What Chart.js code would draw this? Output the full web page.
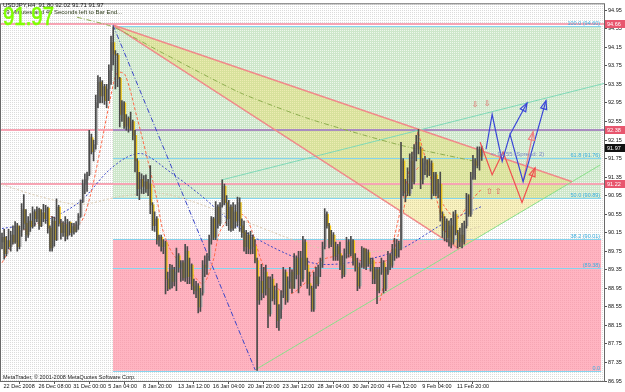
<!DOCTYPE html>
<html><head><meta charset="utf-8">
<style>html,body{margin:0;padding:0;background:#fff;overflow:hidden}canvas{display:block}</style>
<script src="https://cdn.jsdelivr.net/npm/chart.js@4.4.1/dist/chart.umd.min.js"></script>
</head><body>
<canvas id="c" width="625" height="392"></canvas>
<script>
// ---------- DATA (USDJPY H4) ----------
const timeLabels = ['22 Dec 2008','26 Dec 08:00','31 Dec 00:00','5 Jan 04:00','8 Jan 20:00','13 Jan 12:00','16 Jan 04:00','20 Jan 20:00','23 Jan 12:00','28 Jan 04:00','30 Jan 20:00','4 Feb 12:00','9 Feb 04:00','11 Feb 20:00'];
const labelEvery = 16;
const priceTicks = [86.95,87.35,87.75,88.15,88.55,88.95,89.35,89.75,90.15,90.55,90.95,91.35,91.75,92.15,92.55,92.95,93.35,93.75,94.15,94.55,94.95];

const opens = [
89.95,90.05,89.70,89.98,89.85,90.10,89.95,90.30,89.85,90.20,
90.65,90.35,90.10,90.40,90.28,90.60,90.45,90.65,90.30,90.58,
90.45,90.68,90.25,89.82,90.40,90.00,90.70,90.35,90.15,90.32,
90.08,90.38,90.15,90.28,90.18,90.32,90.50,90.82,91.20,91.30,
91.40,92.20,91.90,92.05,92.95,93.40,93.10,93.30,93.00,93.25,
93.65,94.25,94.00,93.98,93.48,92.70,92.95,92.45,92.62,92.40,
92.55,92.25,91.70,91.10,91.30,91.15,91.25,91.10,91.20,90.75,
90.30,90.45,89.99,90.05,89.85,89.95,89.15,88.95,89.35,89.10,
89.30,89.65,89.40,89.50,89.18,89.75,89.20,89.45,89.00,88.90,
89.00,88.55,88.85,89.45,89.40,89.60,90.00,90.45,90.05,90.70,
90.35,90.75,91.15,90.80,90.45,90.70,90.25,90.60,90.40,90.80,
90.30,90.15,89.85,90.10,89.80,90.05,89.85,89.55,88.70,89.10,
88.85,89.30,88.95,88.40,89.15,88.72,88.90,88.25,88.50,88.80,
89.30,88.70,89.10,89.30,88.95,89.60,89.25,89.60,89.15,89.95,
89.45,89.05,88.95,88.50,89.20,89.05,89.40,89.50,89.85,90.55,
90.30,89.90,90.10,89.65,89.85,89.70,89.45,89.25,89.70,89.95,
89.70,89.98,89.55,89.40,89.00,89.45,89.80,89.42,89.72,89.48,
89.55,89.15,89.35,88.90,89.30,89.50,88.95,89.30,89.65,89.45,
89.80,89.65,89.92,89.80,91.70,91.05,91.20,91.00,91.70,91.25,
91.95,92.10,91.95,91.30,91.65,91.70,91.40,91.65,91.00,91.40,
91.00,91.20,90.55,90.20,90.40,90.05,90.30,89.95,90.55,90.15,
89.95,90.10,89.95,90.30,90.95,90.55,91.35,91.70,91.60,91.95,
91.80];
const highs = [
90.14,90.22,90.07,90.22,90.18,90.30,90.39,90.35,90.29,90.78,
90.97,90.65,90.50,90.56,90.71,90.65,90.71,90.68,90.65,90.76,
90.74,90.70,90.30,90.50,90.48,90.88,90.74,90.44,90.39,90.50,
90.44,90.39,90.35,90.35,90.39,90.56,90.86,91.29,91.42,91.46,
92.36,92.28,92.15,93.12,93.54,93.50,93.43,93.35,93.35,93.77,
94.39,94.59,94.08,94.02,93.50,93.00,92.98,92.70,92.65,92.75,
92.58,92.36,91.75,91.45,91.42,91.38,91.40,91.30,91.60,90.80,
90.60,90.50,90.10,90.10,90.00,89.97,89.30,89.47,89.45,89.40,
89.82,89.70,89.55,89.55,89.90,89.85,89.60,89.48,89.15,89.10,
89.05,88.95,89.55,89.65,89.70,90.10,90.50,90.48,90.82,90.75,
90.80,91.29,91.20,90.95,90.85,90.75,90.80,90.75,90.92,90.90,
90.45,90.40,90.20,90.15,90.18,90.10,90.00,89.60,89.20,89.47,
89.40,89.45,89.20,89.20,89.25,89.00,89.05,88.60,88.90,89.40,
89.35,89.20,89.40,89.35,89.70,89.65,89.75,89.75,90.07,90.00,
89.60,89.30,89.00,89.30,89.40,89.45,89.60,89.95,90.67,90.60,
90.35,90.20,90.15,89.95,89.90,89.95,89.65,89.80,90.05,90.00,
90.07,90.00,89.70,89.60,89.50,89.85,89.82,89.80,89.78,89.60,
89.60,89.40,89.40,89.40,89.60,89.55,89.40,89.75,89.70,89.90,
90.03,90.00,89.97,92.10,91.75,91.30,91.55,91.85,91.89,92.05,
92.25,92.38,92.00,91.75,91.80,91.72,91.75,91.70,91.45,91.45,
91.30,91.46,90.60,90.50,90.45,90.40,90.46,90.60,90.63,90.20,
90.25,90.35,90.40,91.00,90.97,91.45,91.82,91.75,92.00,92.00,
92.02];
const lows = [
89.80,89.58,89.65,89.80,89.75,89.90,89.92,89.75,89.80,90.07,
90.22,89.97,90.05,90.18,90.25,90.29,90.39,90.22,90.28,90.39,
90.35,90.14,89.75,89.75,89.86,89.98,90.29,90.01,90.07,89.97,
90.01,90.10,90.07,90.12,90.16,90.22,90.48,90.80,90.99,91.04,
91.38,91.85,91.70,91.95,92.85,92.95,92.95,92.92,92.85,93.00,
93.35,93.77,93.25,93.30,92.43,92.55,92.40,92.36,92.32,92.36,
92.15,91.46,90.95,90.86,91.00,90.99,91.02,90.95,90.56,90.20,
90.18,89.90,89.86,89.75,89.70,88.83,88.90,88.93,88.96,89.00,
88.90,89.30,89.10,89.12,89.10,89.05,89.05,88.92,88.83,88.75,
88.42,88.45,88.80,89.20,89.25,89.55,89.90,90.00,90.00,90.25,
90.30,90.70,90.75,90.30,90.20,90.18,90.20,90.25,90.30,90.18,
90.05,89.75,89.70,89.70,89.69,89.70,89.50,87.18,88.60,88.70,
88.75,88.80,88.10,88.35,88.68,88.60,88.10,88.04,88.30,88.75,
88.60,88.65,88.95,88.85,88.95,89.15,88.85,89.00,89.10,89.35,
88.95,88.80,88.45,88.45,88.95,89.00,89.20,89.40,89.80,90.25,
89.82,89.85,89.55,89.55,89.55,89.35,89.17,89.20,89.60,89.62,
89.65,89.45,89.32,88.90,88.95,89.40,89.38,89.35,89.42,89.32,
89.05,89.05,88.62,88.85,89.25,88.85,88.90,89.25,89.35,89.40,
89.55,89.60,89.62,89.78,90.95,90.82,90.95,90.95,91.10,91.20,
91.70,91.85,91.10,91.20,91.40,91.35,91.38,90.88,90.95,90.95,
90.90,90.40,90.05,89.97,89.95,89.86,89.82,89.90,90.10,89.82,
89.85,89.82,89.90,90.25,90.50,90.50,91.30,91.30,91.55,91.50,
91.71];
const closes = [
90.05,89.70,89.98,89.85,90.10,89.95,90.30,89.85,90.20,90.65,
90.35,90.10,90.40,90.28,90.60,90.45,90.65,90.30,90.58,90.45,
90.68,90.25,89.82,90.40,90.00,90.70,90.35,90.15,90.32,90.08,
90.38,90.15,90.28,90.18,90.32,90.50,90.82,91.20,91.30,91.40,
92.20,91.90,92.05,92.95,93.40,93.10,93.30,93.00,93.25,93.65,
94.25,94.00,93.98,93.48,92.70,92.95,92.45,92.62,92.40,92.55,
92.25,91.70,91.10,91.30,91.15,91.25,91.10,91.20,90.75,90.30,
90.45,89.99,90.05,89.85,89.95,89.15,88.95,89.35,89.10,89.30,
89.65,89.40,89.50,89.18,89.75,89.20,89.45,89.00,88.90,89.00,
88.55,88.85,89.45,89.40,89.60,90.00,90.45,90.05,90.70,90.35,
90.75,91.15,90.80,90.45,90.70,90.25,90.60,90.40,90.80,90.30,
90.15,89.85,90.10,89.80,90.05,89.85,89.55,88.70,89.10,88.85,
89.30,88.95,88.40,89.15,88.72,88.90,88.25,88.50,88.80,89.30,
88.70,89.10,89.30,88.95,89.60,89.25,89.60,89.15,89.95,89.45,
89.05,88.95,88.50,89.20,89.05,89.40,89.50,89.85,90.55,90.30,
89.90,90.10,89.65,89.85,89.70,89.45,89.25,89.70,89.95,89.70,
89.98,89.55,89.40,89.00,89.45,89.80,89.42,89.72,89.48,89.55,
89.15,89.35,88.90,89.30,89.50,88.95,89.30,89.65,89.45,89.80,
89.65,89.92,89.80,91.70,91.05,91.20,91.00,91.70,91.25,91.95,
92.10,91.95,91.30,91.65,91.70,91.40,91.65,91.00,91.40,91.00,
91.20,90.55,90.20,90.40,90.05,90.30,89.95,90.55,90.15,89.95,
90.10,89.95,90.30,90.95,90.55,91.35,91.70,91.60,91.95,91.80,
91.97];

// horizontal price lines and fibo levels (price values)
const hLinePrices = [94.66, 92.37, 91.21];
const hLineTags = ['94.66','92.38','91.22'];
const fibPrices = [94.60, 91.76, 90.89, 90.01, 89.39, 87.17];
const fibTags = ['100.0 (94.60)','61.8 (91.76)','50.0 (90.89)','38.2 (90.01)','(89.38)','0.0'];
const fibFrom = 50.9, fibTo = 274.8;      // bar index span of the fibo object
const lastPrice = 91.97;

// trend objects: [barIndex, price]
const pennantTop = [[50.9,94.63],[261.5,91.25]];
const pennantLow = [[50.9,94.63],[209.6,89.80]];
const supportLine = [[116.1,87.19],[274.3,91.61]];
const channelTop = [[100.9,91.29],[276.1,93.37]];
const fanLine = [[50.9,94.63],[116.1,87.19]];
const slowMA = [[0,90.24],[18.8,90.39],[35.8,90.82],[48.2,91.46],[57.3,91.78],[64.7,91.85],[77.1,91.46],[90.8,90.97],[109.2,90.24],[130.7,89.69],[145.9,89.47],[164.2,89.54],[182.6,89.79],[204.1,90.39],[219.7,90.71]];
const fastMA = [[0,89.50],[8.3,90.14],[16.1,90.35],[22,90.50],[29.8,90.33],[35.8,90.35],[40.4,90.93],[45,91.93],[49.5,93.00],[52.8,93.60],[56.4,93.56],[61.9,92.64],[66.5,91.78],[71.1,90.86],[73.9,90.18],[78.4,89.69],[86.2,89.32],[92.2,89.05],[96.8,89.54],[100,90.18],[106.9,90.57],[111.5,90.50],[114.7,90.18],[119.3,89.50],[125.2,89.00],[132.1,88.83],[139.9,89.11],[145.9,89.54],[157.3,89.65],[168.8,89.50],[178,89.60],[182.6,90.29],[187.2,91.25],[191.7,91.57],[197.7,91.31],[202.3,90.76],[208.7,90.46],[214.7,90.82],[219.7,91.08]];
const zigzag = [[173.4,88.68],[190.8,92.33],[204.6,89.97]];
const midLine = [[34.4,94.80],[50.9,94.59],[74.8,94.00],[109.2,93.17],[141.3,92.60],[182.6,92.04],[217.9,91.68]];
const longMA = [[0,91.19],[17.4,90.93],[35.8,90.76],[54.1,90.93],[72.5,91.00],[87.6,90.82],[113.8,90.35],[145.9,89.82],[173.4,89.75],[196.3,89.97],[219.7,90.29]];
const blueProj = [[222,91.95],[224.8,92.70],[229.4,91.69],[233,92.27],[239,91.25],[249.5,93.00]];
const blueProj2 = [[233,92.27],[240.8,92.95]];
const redProj = [[219.3,92.10],[224.8,91.40],[229.8,91.89],[238.5,90.80],[244.5,91.55]];
const redProj2 = [[239,91.25],[243.6,92.33]];

// ---------- CHART ----------
const FONT = 'Liberation Sans, Arial, sans-serif';
const pts = a => a.map(p => ({x:p[0], y:p[1]}));
const idx = opens.map((_, i) => i);
const lineDS = (data, color, width, dash, order, tension) => ({
  type:'line', data:pts(data), borderColor:color, borderWidth:width, borderDash:dash||[],
  pointRadius:0, fill:false, order:order, tension:tension||0, clip:0
});

const datasets = [
  {type:'bar', data: idx.map(i => ({x:i, y:[lows[i], highs[i]]})), backgroundColor:'#4a4a4a', barThickness:1, grouped:false, order:4},
  {type:'bar', data: idx.map(i => ({x:i+0.35, y:[opens[i], closes[i]]})),
   backgroundColor: idx.map(i => closes[i] < opens[i] ? '#f0c418' : '#b4b4b4'), barThickness:2, grouped:false, order:5},
  lineDS(fastMA, '#ff6a4a', 1, [3,2], 6, 0.3),
  lineDS(slowMA, '#3a46c8', 1, [2,2], 7, 0.3),
  lineDS(longMA, '#dccbb0', 1, [2,2], 8, 0.3),
  lineDS(midLine, '#8fae50', 1, [5,2,1,2], 7, 0.2),
  lineDS(fanLine, '#3a46c8', 1, [5,2,1,2], 7),
  lineDS(zigzag, '#ff6a4a', 1, [3,2], 6),
  lineDS(pennantTop, '#f08a8a', 1.5, [], 8),
  lineDS(pennantLow, '#f08a8a', 1.5, [], 8),
  lineDS(supportLine, '#8ae08a', 1, [], 8),
  lineDS(channelTop, '#7fd8b8', 1, [], 8),
  lineDS(blueProj, '#3a46d8', 1.2, [], 2),
  lineDS(blueProj2, '#3a46d8', 1.2, [], 2),
  lineDS(redProj, '#f05050', 1.2, [], 2),
  lineDS(redProj2, '#f08080', 1.2, [], 2)
];

function dotPattern(ctx, base, dot){
  const p = document.createElement('canvas'); p.width = 2; p.height = 2;
  const g = p.getContext('2d'); g.fillStyle = base; g.fillRect(0,0,2,2); g.fillStyle = dot; g.fillRect(0,0,1,1);
  return ctx.createPattern(p, 'repeat');
}

const zonesPlugin = {
  id:'zones',
  beforeDraw(chart){
    const c = chart.ctx; c.save(); c.fillStyle = '#ffffff'; c.fillRect(0,0,chart.width,chart.height);
    const a = chart.chartArea;
    c.fillStyle = dotPattern(c, '#ffffff', '#dcdcdc'); c.fillRect(a.left, a.top, a.right-a.left, a.bottom-a.top);
    c.restore();
  },
  beforeDatasetsDraw(chart){
    const {ctx:c, chartArea:a, scales:{x, y}} = chart;
    const X = v => x.getPixelForValue(v), Y = v => y.getPixelForValue(v);
    c.save();
    c.beginPath(); c.rect(a.left, a.top, a.right-a.left, a.bottom-a.top); c.clip();
    // fibo zones
    c.fillStyle = dotPattern(c, '#cde6ca', '#eef7ec');
    c.fillRect(X(fibFrom), Y(fibPrices[0]), X(fibTo)-X(fibFrom), Y(fibPrices[2])-Y(fibPrices[0]));
    c.fillStyle = dotPattern(c, '#ffb4c1', '#f6a6b4');
    c.fillRect(X(fibFrom), Y(fibPrices[3]), X(fibTo)-X(fibFrom), Y(fibPrices[5])-Y(fibPrices[3]));
    // pennant triangle
    c.fillStyle = 'rgba(235,215,60,0.32)';
    c.beginPath();
    c.moveTo(X(pennantTop[0][0]), Y(pennantTop[0][1]));
    c.lineTo(X(pennantTop[1][0]), Y(pennantTop[1][1]));
    c.lineTo(X(pennantLow[1][0]), Y(pennantLow[1][1]));
    c.closePath(); c.fill();
    // horizontal lines
    c.lineWidth = 2; c.strokeStyle = '#f6a4b4';
    hLinePrices.forEach(p => { const yy = Math.round(Y(p)); c.beginPath(); c.moveTo(a.left, yy); c.lineTo(a.right, yy); c.stroke(); });
    c.strokeStyle = '#8f86c4'; c.lineWidth = 1.5;
    { const yy = Math.round(Y(hLinePrices[1])); c.beginPath(); c.moveTo(X(fibFrom), yy); c.lineTo(a.right, yy); c.stroke(); }
    // fibo lines
    c.strokeStyle = '#86d4ee'; c.lineWidth = 1;
    fibPrices.forEach(p => { const yy = Math.round(Y(p)) + 0.5; c.beginPath(); c.moveTo(X(fibFrom), yy); c.lineTo(X(fibTo), yy); c.stroke(); });
    c.restore();
  },
  afterDatasetsDraw(chart){
    const {ctx:c, chartArea:a, scales:{x, y}} = chart;
    const X = v => x.getPixelForValue(v), Y = v => y.getPixelForValue(v);
    c.save();
    const head = (arr, color) => {
      const n = arr.length, x1 = X(arr[n-2][0]), y1 = Y(arr[n-2][1]), x2 = X(arr[n-1][0]), y2 = Y(arr[n-1][1]);
      const ang = Math.atan2(y2-y1, x2-x1), L = 9, w = 0.35;
      c.strokeStyle = color; c.lineWidth = 1.2; c.beginPath();
      c.moveTo(x2, y2);
      c.lineTo(x2 - L*Math.cos(ang - w), y2 - L*Math.sin(ang - w));
      c.lineTo(x2 - L*Math.cos(ang + w), y2 - L*Math.sin(ang + w));
      c.closePath(); c.stroke();
    };
    head(blueProj, '#3a46d8'); head(blueProj2, '#3a46d8'); head(redProj, '#f05050'); head(redProj2, '#f08080');
    c.font = '5.5px ' + FONT; c.textAlign = 'right'; c.textBaseline = 'bottom'; c.fillStyle = '#3aaee0';
    fibPrices.forEach((p, k) => c.fillText(fibTags[k], X(fibTo) - 1, Y(p)));
    c.textAlign = 'left'; c.textBaseline = 'middle'; c.fillStyle = '#7a86c8'; c.font = '6px ' + FONT;
    c.fillText('<- 91.55 (Spread: 2)', X(224), Y(91.84));
    c.font = '8px DejaVu Sans'; c.fillStyle = '#e05a5a'; c.textAlign = 'center';
    c.fillText('\u21E9', X(217), Y(92.90)); c.fillText('\u21E9', X(222.5), Y(92.93));
    c.fillText('\u21E7', X(223.5), Y(91.03)); c.fillText('\u21E7', X(227.5), Y(91.03));
    c.strokeStyle = '#6a6a6a'; c.lineWidth = 1;
    c.strokeRect(a.left - 0.5, a.top - 0.5, a.right - a.left + 1, a.bottom - a.top + 1);
    c.textAlign = 'left'; c.textBaseline = 'top'; c.fillStyle = '#111'; c.font = '6px ' + FONT;
    c.fillText('USDJPY,H4  91.80 92.02 91.71 91.97', 3, 2);
    c.fillStyle = '#2c3a1a';
    c.fillText('29 Minutes and 49 Seconds left to Bar End...', 3, 9);
    c.font = '25px ' + FONT; c.fillStyle = '#80ff00'; c.strokeStyle = '#80ff00'; c.lineWidth = 0.6;
    const w = c.measureText('91.97').width;
    c.save(); c.translate(3, 6); c.scale(51 / w, 1); c.fillText('91.97', 0, 0); c.strokeText('91.97', 0, 0); c.restore();
    c.font = '5.5px ' + FONT; c.fillStyle = '#222'; c.textBaseline = 'bottom';
    c.fillText('MetaTrader, \u00A9 2001-2008 MetaQuotes Software Corp.', 3, a.bottom - 1);
    c.restore();
  },
  afterDraw(chart){
    const {ctx:c, chartArea:a, scales:{y}} = chart;
    c.save();
    c.font = '5.5px ' + FONT; c.textBaseline = 'middle'; c.textAlign = 'left';
    const box = (p, txt, bg) => {
      const yy = Math.round(y.getPixelForValue(p));
      c.fillStyle = bg; c.fillRect(a.right + 1, yy - 4, 20, 8);
      c.fillStyle = '#fff'; c.fillText(txt, a.right + 3, yy);
    };
    hLinePrices.forEach((p, k) => box(p, hLineTags[k], '#e8566e'));
    box(lastPrice, lastPrice.toFixed(2), '#111');
    c.restore();
  }
};

new Chart(document.getElementById('c'), {
  type:'bar',
  data:{datasets},
  plugins:[zonesPlugin],
  options:{
    responsive:false, animation:false, devicePixelRatio:1,
    layout:{padding:{left:1, top:1, right:0, bottom:0}},
    plugins:{legend:{display:false}, tooltip:{enabled:false}},
    scales:{
      x:{type:'linear', min:-0.46, max:276.1, offset:false,
         grid:{display:true, drawOnChartArea:false, drawTicks:true, tickLength:3, color:'#555', tickColor:'#555'},
         border:{display:true, color:'#6a6a6a'},
         afterBuildTicks: s => { s.ticks = timeLabels.map((_, k) => ({value:k*labelEvery})); },
         afterFit: s => { s.height = 11; },
         ticks:{autoSkip:false, maxRotation:0, align:'start', padding:-1, color:'#111', font:{family:FONT, size:5.5},
                callback:(v) => ' ' + (timeLabels[Math.round(v/labelEvery)] || '')}},
      y:{type:'linear', position:'right', min:86.95, max:95.078,
         grid:{display:true, drawOnChartArea:false, drawTicks:true, tickLength:3, color:'#555', tickColor:'#555'},
         border:{display:true, color:'#6a6a6a'},
         afterBuildTicks: s => { s.ticks = priceTicks.map(v => ({value:v})); },
         afterFit: s => { s.width = 21; },
         ticks:{padding:1, color:'#111', font:{family:FONT, size:5.5}, callback:v => Number(v).toFixed(2)}}
    }
  }
});
</script>
</body></html>
